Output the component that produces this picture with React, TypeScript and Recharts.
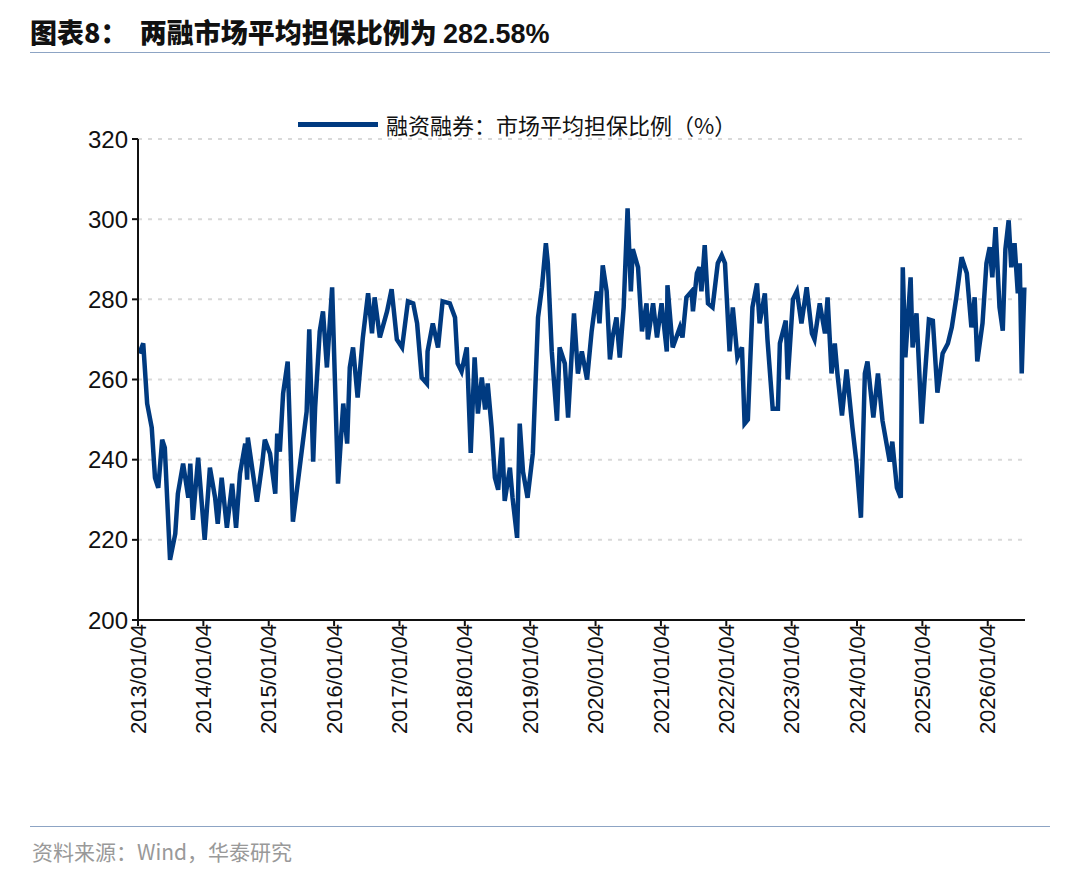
import { LineChart, Line, XAxis, YAxis, CartesianGrid } from "recharts";

// decimal years
const years = [
  2013.02, 2013.08, 2013.14, 2013.21, 2013.26, 2013.31, 2013.37, 2013.41, 2013.49, 2013.57,
  2013.61, 2013.69, 2013.77, 2013.8, 2013.84, 2013.92, 2014.02, 2014.1, 2014.18, 2014.22,
  2014.28, 2014.36, 2014.44, 2014.5, 2014.56, 2014.64, 2014.67, 2014.68, 2014.82, 2014.9,
  2014.94, 2015.02, 2015.1, 2015.13, 2015.17, 2015.22, 2015.29, 2015.37, 2015.58, 2015.62,
  2015.68, 2015.71, 2015.78, 2015.83, 2015.89, 2015.97, 2016.06, 2016.14, 2016.2, 2016.24,
  2016.29, 2016.36, 2016.44, 2016.52, 2016.58, 2016.62, 2016.7, 2016.81, 2016.88, 2016.96,
  2017.04, 2017.13, 2017.21, 2017.27, 2017.34, 2017.42, 2017.43, 2017.51, 2017.59, 2017.66,
  2017.77, 2017.85, 2017.89, 2017.95, 2018.03, 2018.09, 2018.15, 2018.2, 2018.26, 2018.31,
  2018.35, 2018.41, 2018.46, 2018.51, 2018.57, 2018.61, 2018.69, 2018.73, 2018.8, 2018.84,
  2018.89, 2018.96, 2019.04, 2019.12, 2019.18, 2019.24, 2019.27, 2019.33, 2019.41, 2019.45,
  2019.53, 2019.58, 2019.67, 2019.73, 2019.79, 2019.87, 2019.94, 2020.02, 2020.06, 2020.11,
  2020.17, 2020.22, 2020.26, 2020.32, 2020.37, 2020.43, 2020.49, 2020.54, 2020.57, 2020.65,
  2020.71, 2020.78, 2020.8, 2020.88, 2020.94, 2021.01, 2021.09, 2021.1, 2021.18, 2021.29,
  2021.33, 2021.39, 2021.47, 2021.49, 2021.55, 2021.59, 2021.62, 2021.67, 2021.72, 2021.79,
  2021.87, 2021.93, 2021.98, 2022.05, 2022.1, 2022.17, 2022.24, 2022.28, 2022.33, 2022.4,
  2022.47, 2022.51, 2022.59, 2022.63, 2022.71, 2022.79, 2022.82, 2022.91, 2022.94, 2023.02,
  2023.08, 2023.15, 2023.23, 2023.31, 2023.35, 2023.43, 2023.51, 2023.55, 2023.61, 2023.66,
  2023.7, 2023.77, 2023.84, 2023.93, 2023.99, 2024.06, 2024.12, 2024.16, 2024.25, 2024.32,
  2024.39, 2024.5, 2024.54, 2024.61, 2024.67, 2024.7, 2024.74, 2024.82, 2024.85, 2024.91,
  2024.99, 2025.03, 2025.1, 2025.16, 2025.23, 2025.31, 2025.39, 2025.45, 2025.52, 2025.6,
  2025.68, 2025.75, 2025.8, 2025.84, 2025.92, 2025.98, 2026.03, 2026.07, 2026.12, 2026.18,
  2026.23, 2026.27, 2026.32, 2026.36, 2026.41, 2026.46, 2026.49, 2026.52, 2026.56,
];

const ratio = [
  266.5, 269, 254, 248, 235.5, 233, 245, 243, 215, 221.5,
  231.5, 239, 230.5, 239, 225, 240.5, 220, 238, 230.5, 224,
  235.5, 223, 234, 223, 236.5, 244, 235, 245.5, 229.5, 239,
  245, 241.5, 231.5, 246.5, 242, 256.5, 264.5, 224.5, 252, 272.5,
  239.5, 253, 272, 277, 263, 283, 234, 254, 244, 263,
  268, 255.5, 270.5, 281.5, 271.5, 280.5, 270.5, 277, 282.5, 270,
  268, 279.5, 279, 274, 260.5, 259, 267, 274, 268, 279.5,
  279, 275.5, 264, 262, 268, 241.7, 265.5, 251.5, 260.5, 252.5,
  259, 248, 235.5, 232.5, 245.5, 229.7, 238, 230.5, 220.5, 249,
  237, 230.5, 241.5, 275.5, 283, 294, 289, 267, 249.7, 268,
  264, 250.5, 276.5, 261.5, 267, 260, 272, 282, 274, 288.5,
  282, 265, 270.5, 275.5, 265.5, 278, 302.7, 282, 292.5, 288,
  272, 279, 270, 279, 270.5, 279, 267, 283.5, 268, 273,
  270.5, 280.5, 282, 277, 286.5, 288, 282, 293.5, 279, 278,
  289, 291, 289, 267, 278, 265.5, 268, 249, 250, 278,
  284, 274, 281.5, 270, 252.7, 252.7, 269, 274.7, 260, 280,
  282, 274, 283, 271.5, 270, 279, 271.5, 280.5, 261.5, 269,
  261.5, 251, 262.5, 248, 239.5, 225.5, 261.5, 264.5, 250.5, 261.5,
  249.7, 239.5, 244.5, 233, 230.5, 288, 265.5, 285.5, 268, 276.5,
  249, 259, 275, 274.7, 256.7, 266.5, 269, 273, 280.5, 290.5,
  286.5, 273, 280.5, 264.5, 274, 289, 293, 285.5, 298, 278,
  272.2, 292.5, 299.7, 288, 294, 281.5, 289, 261.5, 283,
];

const yearTicks = [2013, 2014, 2015, 2016, 2017, 2018, 2019, 2020, 2021, 2022, 2023, 2024, 2025, 2026];
const yTicks = [200, 220, 240, 260, 280, 300, 320];

const seriesName = "融资融券：市场平均担保比例（%）";

const data = years.map((t, i) => ({ t, v: ratio[i] }));

const font = "'Liberation Sans', Arial, sans-serif";
const cjk = "'Noto Sans CJK SC', 'Liberation Sans', sans-serif";

export default function App() {
  return (
    <div style={{ position: "absolute", left: 0, top: 0, width: 1080, height: 876, background: "#fff" }}>
      <div style={{ position: "absolute", left: 30, top: 12, fontFamily: cjk, fontWeight: 900, fontSize: 27, color: "#111" }}>
        图表8：&nbsp;&nbsp;两融市场平均担保比例为 <span style={{ fontFamily: font, fontWeight: 700 }}>282.58%</span>
      </div>
      <div style={{ position: "absolute", left: 30, top: 52, width: 1020, height: 1, background: "#8da4c4" }} />
      <div style={{ position: "absolute", left: 0, top: 0 }}>
        <LineChart width={1080} height={810} data={data} margin={{ top: 139, right: 55, left: 78, bottom: 0 }}>
          <CartesianGrid vertical={false} stroke="#d9d9d9" strokeDasharray="4 6" strokeWidth={2} />
          <XAxis
            dataKey="t"
            type="number"
            domain={[2013, 2026.57]}
            ticks={yearTicks}
            tickFormatter={(y) => `${y}/01/04`}
            height={190}
            interval={0}
            angle={-90}
            textAnchor="end"
            dx={-8}
            dy={-4}
            tick={{ fill: "#111", fontSize: 22, fontFamily: font }}
            axisLine={{ stroke: "#111", strokeWidth: 2 }}
            tickLine={{ stroke: "#111", strokeWidth: 2 }}
            tickSize={6}
          />
          <YAxis
            domain={[200, 320]}
            ticks={yTicks}
            width={60}
            tick={{ fill: "#111", fontSize: 24, fontFamily: font }}
            axisLine={{ stroke: "#111", strokeWidth: 2 }}
            tickLine={{ stroke: "#111", strokeWidth: 2 }}
            tickSize={6}
            tickMargin={4}
          />
          <Line type="linear" dataKey="v" stroke="#003a80" strokeWidth={4.5} dot={false} isAnimationActive={false} />
        </LineChart>
      </div>
      <div style={{ position: "absolute", left: 298, top: 108, display: "flex", alignItems: "center", fontFamily: cjk, fontSize: 22, color: "#111" }}>
        <span style={{ display: "inline-block", width: 80, height: 5, background: "#003a80", marginRight: 8 }} />
        {seriesName}
      </div>
      <div style={{ position: "absolute", left: 30, top: 826, width: 1020, height: 1, background: "#8da4c4" }} />
      <div style={{ position: "absolute", left: 32, top: 836, fontFamily: cjk, fontSize: 21, color: "#999" }}>
        资料来源：Wind，华泰研究
      </div>
    </div>
  );
}
